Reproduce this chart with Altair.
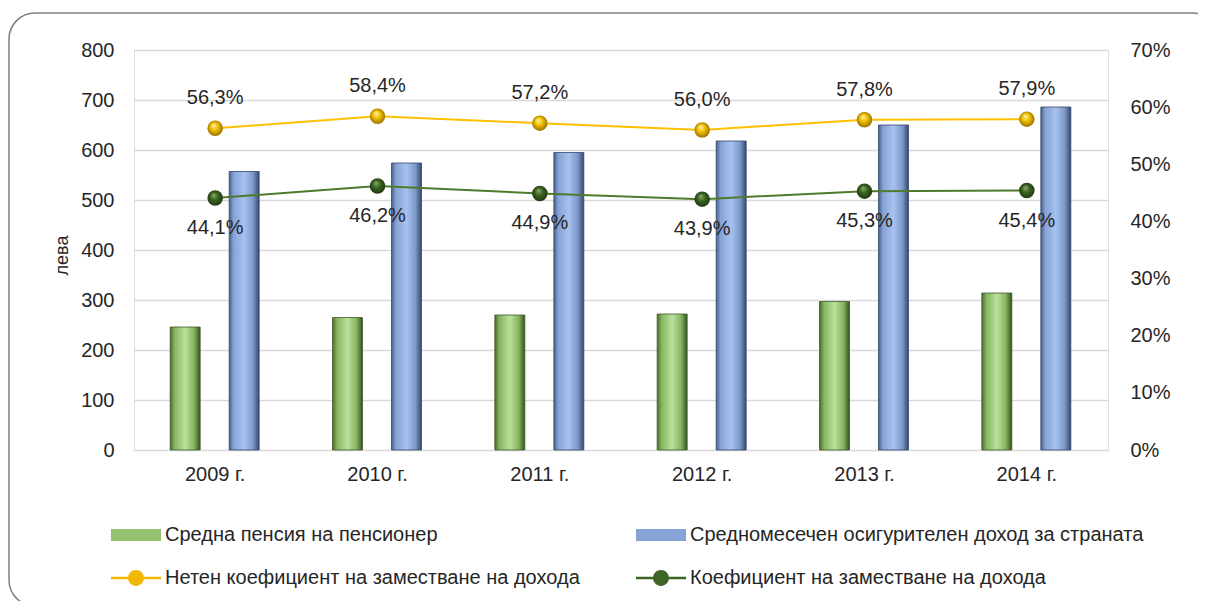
import altair as alt
import pandas as pd

years = ["2009 г.", "2010 г.", "2011 г.", "2012 г.", "2013 г.", "2014 г."]
pension = [246, 265, 270, 272, 297, 314]
income = [557, 574, 595, 618, 650, 686]
net_rate = [56.3, 58.4, 57.2, 56.0, 57.8, 57.9]
rate = [44.1, 46.2, 44.9, 43.9, 45.3, 45.4]

s_pension = "Средна пенсия на пенсионер"
s_income = "Средномесечен осигурителен доход за страната"
s_net = "Нетен коефициент на заместване на дохода"
s_rate = "Коефициент на заместване на дохода"
# legend order (column-major fill of a 2-column legend)
legend_order = [s_pension, s_net, s_income, s_rate]

FONT = "Liberation Sans Narrow, Arial Narrow, Liberation Sans, sans-serif"
TXT = "#262626"

bars_df = pd.DataFrame({"year": years, "pension": pension, "income": income})
lines_df = pd.DataFrame({
    "year": years * 2,
    "series": [s_net] * 6 + [s_rate] * 6,
    "v": [v / 100 for v in net_rate] + [v / 100 for v in rate],
    "label": [f"{v:.1f}%".replace(".", ",") for v in net_rate + rate],
})
legend_df = pd.DataFrame({"series": legend_order})
frame_df = pd.DataFrame({"a": [0]})

xenc = alt.X("year:N", sort=years, title=None,
             scale=alt.Scale(paddingInner=0, paddingOuter=0),
             axis=alt.Axis(labelAngle=0, labelFontSize=20, labelPadding=14,
                           labelColor=TXT, labelFont=FONT, ticks=False,
                           domain=False, grid=False))

yleft = alt.Scale(domain=[0, 800])
yright = alt.Scale(domain=[0, 0.7])

green_grad = alt.LinearGradient(
    gradient="linear", x1=0, x2=1, y1=0, y2=0,
    stops=[alt.GradientStop(offset=0, color="#4c6a2f"),
           alt.GradientStop(offset=0.15, color="#86b560"),
           alt.GradientStop(offset=0.5, color="#b9e19c"),
           alt.GradientStop(offset=0.8, color="#86b360"),
           alt.GradientStop(offset=1, color="#35501f")])
blue_grad = alt.LinearGradient(
    gradient="linear", x1=0, x2=1, y1=0, y2=0,
    stops=[alt.GradientStop(offset=0, color="#4a5f8c"),
           alt.GradientStop(offset=0.15, color="#86a3d6"),
           alt.GradientStop(offset=0.5, color="#a8c2ef"),
           alt.GradientStop(offset=0.8, color="#7d97c8"),
           alt.GradientStop(offset=1, color="#34476e")])

frame = alt.Chart(frame_df).mark_rect(
    fill="white", fillOpacity=0, stroke="#7f7f7f", strokeWidth=1.5,
    cornerRadius=26
).encode(x=alt.value(-125), x2=alt.value(1085), y=alt.value(-37), y2=alt.value(556))

green = alt.Chart(bars_df).mark_bar(
    width=30, xOffset=-30, fill=green_grad, stroke="#3e5a26", strokeWidth=0.8
).encode(
    x=xenc,
    y=alt.Y("pension:Q", scale=yleft, title="лева",
            axis=alt.Axis(values=list(range(0, 801, 100)), orient="left",
                          labelFontSize=20, labelColor=TXT, labelFont=FONT,
                          labelPadding=20, ticks=False, domain=False,
                          grid=True, gridColor="#d9d9d9", gridWidth=1.5,
                          titleFont=FONT, titleFontSize=18, titleFontWeight="normal",
                          titleColor=TXT, titleX=-72, titleY=205, titleAngle=-90,
                          titleAlign="center", titleBaseline="middle")),
)
blue = alt.Chart(bars_df).mark_bar(
    width=30, xOffset=29, fill=blue_grad, stroke="#34476e", strokeWidth=0.8
).encode(x=xenc, y=alt.Y("income:Q", scale=yleft))

left = alt.layer(frame, green, blue)

yr = alt.Y("v:Q", scale=yright, title=None,
           axis=alt.Axis(format=".0%", values=[i / 10 for i in range(8)], orient="right",
                         labelFontSize=20, labelColor=TXT, labelFont=FONT,
                         labelPadding=22, ticks=False, domain=False, grid=False))

line_color = alt.Scale(domain=[s_net, s_rate], range=["#ffc000", "#4e7a2c"])

lines = alt.Chart(lines_df).mark_line(strokeWidth=2).encode(
    x=xenc, y=yr, detail="series:N",
    stroke=alt.Stroke("series:N", scale=line_color, legend=None))

yellow_grad = alt.RadialGradient(
    gradient="radial", x1=0.4, y1=0.3, r1=0, x2=0.5, y2=0.5, r2=0.55,
    stops=[alt.GradientStop(offset=0, color="#fff7b0"),
           alt.GradientStop(offset=0.45, color="#f2bd00"),
           alt.GradientStop(offset=1, color="#8c6a00")])
dgreen_grad = alt.RadialGradient(
    gradient="radial", x1=0.4, y1=0.3, r1=0, x2=0.5, y2=0.5, r2=0.55,
    stops=[alt.GradientStop(offset=0, color="#8fb070"),
           alt.GradientStop(offset=0.45, color="#3b6321"),
           alt.GradientStop(offset=1, color="#1c330e")])

pts_y = alt.Chart(lines_df).transform_filter(alt.datum.series == s_net).mark_point(
    filled=True, size=240, fill=yellow_grad, opacity=1).encode(x=xenc, y=alt.Y("v:Q", scale=yright))
pts_g = alt.Chart(lines_df).transform_filter(alt.datum.series == s_rate).mark_point(
    filled=True, size=240, fill=dgreen_grad, opacity=1).encode(x=xenc, y=alt.Y("v:Q", scale=yright))

lab_y = alt.Chart(lines_df).transform_filter(alt.datum.series == s_net).mark_text(
    dy=-30, fontSize=20, font=FONT, color=TXT).encode(
    x=xenc, y=alt.Y("v:Q", scale=yright), text="label:N")
lab_g = alt.Chart(lines_df).transform_filter(alt.datum.series == s_rate).mark_text(
    dy=30, fontSize=20, font=FONT, color=TXT).encode(
    x=xenc, y=alt.Y("v:Q", scale=yright), text="label:N")

bar_path = "M-1.67,-0.4H1.67V0.4H-1.67Z"
dot_path = ("M-1.67,-0.085H-0.45V0.085H-1.67Z"
            "M0.45,-0.085H1.67V0.085H0.45Z"
            "M-0.53,0A0.53,0.53 0 1,1 0.53,0A0.53,0.53 0 1,1 -0.53,0Z")
leg_fill = {s_pension: "#94c270", s_income: "#86a2d6", s_net: "#f2b800", s_rate: "#3d6624"}

legend_layer = alt.Chart(legend_df).mark_point(
    filled=True, clip=True, size=900, opacity=1, strokeWidth=0
).encode(
    x=alt.value(-5000), y=alt.value(-5000),
    fill=alt.Fill("series:N", sort=legend_order,
                  scale=alt.Scale(domain=legend_order,
                                  range=[leg_fill[s] for s in legend_order]),
                  legend=alt.Legend(title=None, orient="none", legendX=-13, legendY=470,
                                    columns=2, columnPadding=55, rowPadding=18,
                                    symbolSize=900, symbolStrokeWidth=0, symbolOpacity=1,
                                    labelFont=FONT, labelFontSize=20, labelColor=TXT,
                                    labelOffset=14, labelLimit=600)),
    shape=alt.Shape("series:N", sort=legend_order,
                    scale=alt.Scale(domain=legend_order,
                                    range=[bar_path, dot_path, bar_path, dot_path])),
)

right = alt.layer(lines, pts_y, pts_g, lab_y, lab_g, legend_layer)

chart = alt.layer(left, right).resolve_scale(
    y="independent", stroke="independent"
).properties(
    width=974, height=400,
    autosize=alt.AutoSizeParams(type="none"),
    padding={"left": 126, "top": 42, "right": 90, "bottom": 151},
).configure_view(stroke=None).configure(background="white")

chart.save("out.html", embed_options={"renderer": "svg", "actions": False})
